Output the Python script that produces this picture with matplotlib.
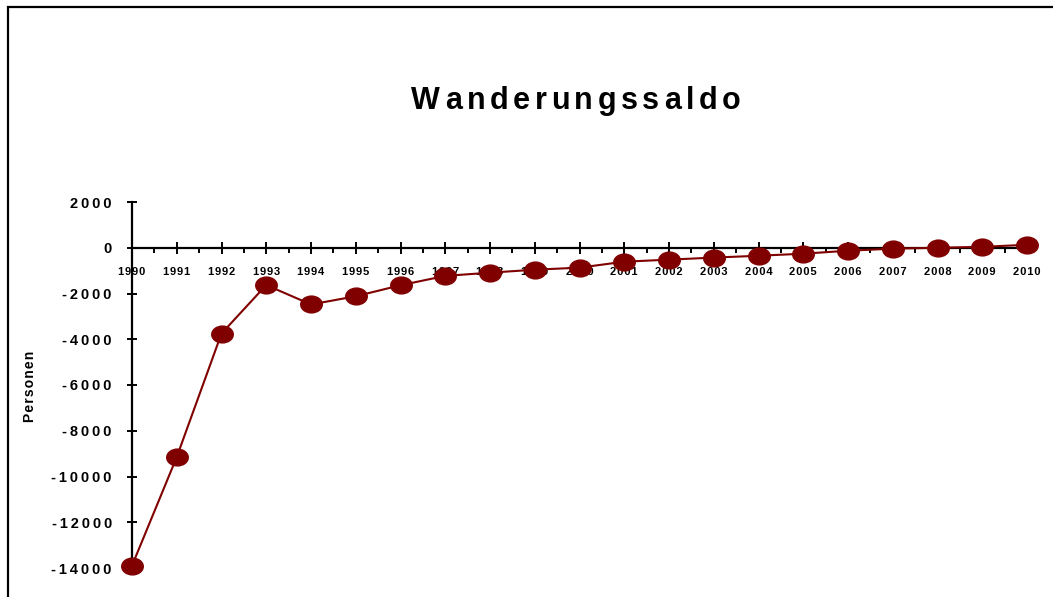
import matplotlib
matplotlib.use("Agg")
import matplotlib.pyplot as plt
from matplotlib.path import Path
from matplotlib.patches import Rectangle
from matplotlib.ticker import MultipleLocator

years = list(range(1990, 2011))
saldo = [-13900, -9150, -3750, -1630, -2480, -2120, -1640, -1230, -1090, -960,
         -870, -610, -520, -430, -350, -260, -130, -40, 0, 40, 130]
yticks = [2000, 0, -2000, -4000, -6000, -8000, -10000, -12000, -14000]
title = "Wanderungssaldo"
ylabel = "Personen"
color = "#800000"

plt.rcParams['font.family'] = ['Liberation Sans', 'DejaVu Sans']

def spaced(s, sep="\u200a"):
    return sep.join(s)

fig = plt.figure(figsize=(10.53, 5.97), dpi=100)
ax = fig.add_axes([132/1053, 1-568/597, (1027-132)/1053, (568-202)/597])

circ = Path.unit_circle()
ell = Path(circ.vertices * [1.0, 0.78], circ.codes)

ax.plot(years, saldo, color=color, lw=1.5, marker=ell, markersize=15.5,
        markerfacecolor=color, markeredgecolor=color, clip_on=False, zorder=3)

ax.set_xlim(1990, 2010)
ax.set_ylim(-14000, 2000)
ax.spines['top'].set_visible(False)
ax.spines['right'].set_visible(False)
ax.spines['bottom'].set_position(('data', 0))
for s in ('left', 'bottom'):
    ax.spines[s].set_linewidth(1.6)
    ax.spines[s].set_color('black')

ax.set_xticks(years)
ax.set_xticklabels([spaced(str(y)) for y in years], fontsize=8, fontweight='bold')
ax.xaxis.set_minor_locator(MultipleLocator(0.5))
ax.tick_params(axis='x', which='major', direction='inout', length=9, width=1.4, pad=9.5)
ax.tick_params(axis='x', which='minor', direction='out', length=3.5, width=1.4)
ax.set_yticks(yticks)
ax.set_yticklabels([spaced(str(v), "\u2009") for v in yticks], fontsize=10.5, fontweight='bold')
ax.tick_params(axis='y', direction='inout', length=7, width=1.4, pad=11)

fig.text(30/1053, 1-386/597, spaced(ylabel), rotation=90, ha='center', va='center',
         fontsize=10, fontweight='bold')

# letter-spaced title
fig.canvas.draw()
r = fig.canvas.get_renderer()
fs = 22
spacing = 4.6  # px extra between letters
widths = []
for ch in title:
    t = fig.text(0, 0, ch, fontsize=fs, fontweight='bold')
    widths.append(t.get_window_extent(r).width)
    t.remove()
total = sum(widths) + spacing * (len(title) - 1)
x = 576 - total / 2
ypix = 597 - 101
for ch, w in zip(title, widths):
    fig.text(x / 1053, ypix / 597, ch, fontsize=fs, fontweight='bold',
             ha='left', va='center')
    x += w + spacing

fig.patches.append(Rectangle((8/1053, -0.1), 1.2, 1.1 - 7/597, transform=fig.transFigure,
                             fill=False, edgecolor='black', lw=1.6, figure=fig))

fig.savefig("out.png", dpi=100)
